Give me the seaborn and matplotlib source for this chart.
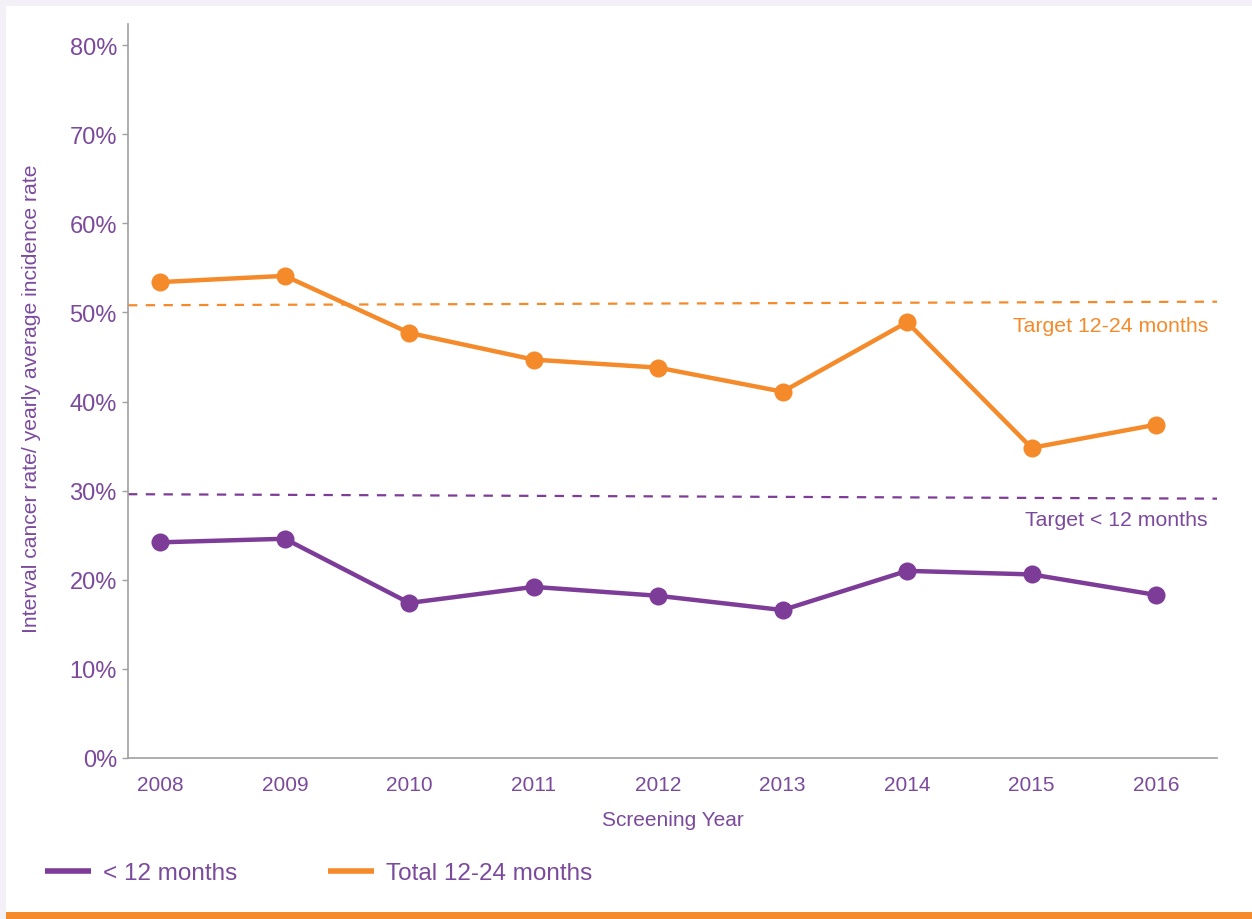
import matplotlib
matplotlib.use("Agg")
import matplotlib.pyplot as plt
from matplotlib.patches import Rectangle
from matplotlib.lines import Line2D
from matplotlib.ticker import FuncFormatter
import seaborn as sns
import pandas as pd

years = [2008, 2009, 2010, 2011, 2012, 2013, 2014, 2015, 2016]
under12 = [24.2, 24.6, 17.4, 19.2, 18.2, 16.6, 21.0, 20.6, 18.3]
total12_24 = [53.4, 54.1, 47.7, 44.7, 43.8, 41.1, 48.9, 34.8, 37.4]
target_12_24 = [50.8, 51.2]   # left end, right end
target_under12 = [29.6, 29.1]
series_names = ["< 12 months", "Total 12-24 months"]
target_labels = ["Target 12-24 months", "Target < 12 months"]
y_ticks = [0, 10, 20, 30, 40, 50, 60, 70, 80]

PURPLE = "#7D3C98"
PURPLE_TXT = "#7B4A9D"
ORANGE = "#F58A2A"
LAVENDER = "#F3F1F7"
SPINE = "#A0A0A0"

sns.set_theme(style="white")
plt.rcParams["font.family"] = ["Liberation Sans", "DejaVu Sans"]

fig = plt.figure(figsize=(12.52, 9.2), dpi=100, facecolor=LAVENDER)
# white panel and orange footer bar
fig.patches.append(Rectangle((6 / 1252, 7.3 / 920), 1, 1 - 14.3 / 920,
                             transform=fig.transFigure, facecolor="white",
                             edgecolor="none", zorder=-10))
fig.patches.append(Rectangle((6 / 1252, 0), 1, 7.3 / 920,
                             transform=fig.transFigure, facecolor=ORANGE,
                             edgecolor="none", zorder=-10))

ax = fig.add_axes([128 / 1252, 1 - 759 / 920, (1217 - 128) / 1252, (759 - 25) / 920])
ax.set_facecolor("none")

df = pd.DataFrame({
    "year": years * 2,
    "value": under12 + total12_24,
    "series": [series_names[0]] * len(years) + [series_names[1]] * len(years),
})

sns.lineplot(data=df, x="year", y="value", hue="series",
             palette={series_names[0]: PURPLE, series_names[1]: ORANGE},
             marker="o", markersize=13, markeredgewidth=0, linewidth=3.2,
             legend=False, ax=ax, zorder=3)

xlim = (2007.74, 2016.49)
ax.set_xlim(*xlim)
ax.set_ylim(0, 82.36)

ax.plot(xlim, target_12_24, color=ORANGE, lw=1.6, linestyle=(0, (4.2, 3.8)), zorder=2)
ax.plot(xlim, target_under12, color=PURPLE, lw=1.6, linestyle=(0, (4.2, 3.8)), zorder=2)

ax.text(0.9917, 0.5886, target_labels[0], transform=ax.transAxes, ha="right",
        va="center", color=ORANGE, fontsize=15.3)
ax.text(0.9917, 0.3243, target_labels[1], transform=ax.transAxes, ha="right",
        va="center", color=PURPLE_TXT, fontsize=15.3)

ax.set_xticks(years)
ax.set_xticklabels([str(y) for y in years])
ax.set_yticks(y_ticks)
ax.yaxis.set_major_formatter(FuncFormatter(lambda v, p: f"{v:.0f}%"))

for s in ["top", "right"]:
    ax.spines[s].set_visible(False)
for s in ["left", "bottom"]:
    ax.spines[s].set_color(SPINE)
    ax.spines[s].set_linewidth(1.2)

ax.tick_params(axis="x", length=0, pad=12.5, labelsize=15, labelcolor=PURPLE_TXT)
ax.tick_params(axis="y", left=True, length=4.5, width=1, color=SPINE, pad=3.5,
               labelsize=17, labelcolor=PURPLE_TXT)

ax.set_xlabel("Screening Year", fontsize=15, color=PURPLE_TXT, labelpad=11.5)
ax.set_ylabel("Interval cancer rate/ yearly average incidence rate",
              fontsize=15.2, color=PURPLE_TXT)
ax.yaxis.set_label_coords(-0.0799, 0.4905)

handles = [Line2D([], [], color=PURPLE, lw=4, solid_capstyle="butt"),
           Line2D([], [], color=ORANGE, lw=4, solid_capstyle="butt")]
leg = fig.legend(handles, series_names, loc="center left",
                 bbox_to_anchor=(45 / 1252, 1 - 874 / 920), ncol=2,
                 frameon=False, fontsize=17.5, handlelength=1.9,
                 handletextpad=0.5, columnspacing=3.7, borderaxespad=0,
                 borderpad=0)
for t in leg.get_texts():
    t.set_color(PURPLE_TXT)

fig.savefig("out.png", dpi=100, facecolor=LAVENDER)
